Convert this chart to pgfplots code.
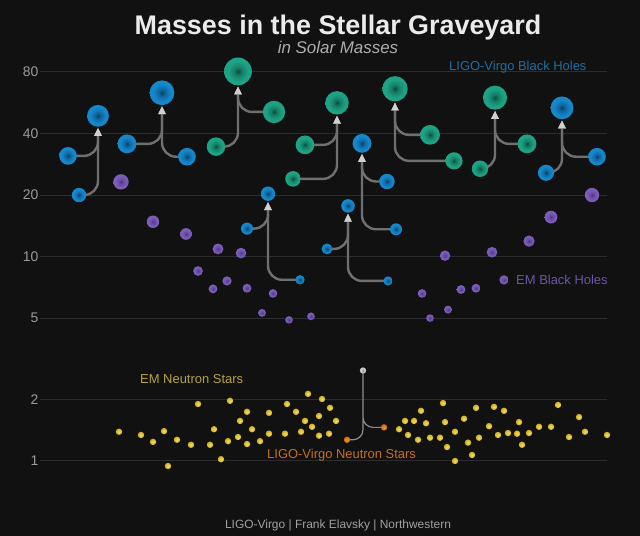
\documentclass[border=0pt]{standalone}
\usepackage{fontspec}
\setmainfont{Liberation Sans}
\usepackage{pgfplots}
\usepackage{pgfplotstable}
\pgfplotsset{compat=1.18}
\usetikzlibrary{arrows.meta}

\definecolor{bg}{HTML}{111111}
\definecolor{gridc}{HTML}{2C2C2C}
\definecolor{tickc}{HTML}{9A9A9A}
\definecolor{conncol}{HTML}{707070}
\definecolor{arrcol}{HTML}{D0D0D0}
\definecolor{bBlue}{HTML}{1587CB}
\definecolor{bBlueM}{HTML}{0F67A0}
\definecolor{bBlueD}{HTML}{0A3F66}
\definecolor{bTeal}{HTML}{1DA283}
\definecolor{bTealM}{HTML}{157C65}
\definecolor{bTealD}{HTML}{0C4A3E}
\definecolor{bPurp}{HTML}{7A5CB9}
\definecolor{bPurpM}{HTML}{66499F}
\definecolor{bPurpD}{HTML}{4B3480}
\definecolor{nsY}{HTML}{CFAE1E}
\definecolor{nsYL}{HTML}{F2DE62}
\definecolor{nsO}{HTML}{CC650C}
\definecolor{nsOL}{HTML}{F09A3A}
\definecolor{nsG}{HTML}{8A8A8A}
\definecolor{nsGL}{HTML}{C8C8C8}
\definecolor{lblBlue}{HTML}{1F6EA5}
\definecolor{lblPurp}{HTML}{6C55A3}
\definecolor{lblYel}{HTML}{B8A23A}
\definecolor{lblOr}{HTML}{C8701A}

% glowing discs: dark centre, bright rim
\pgfdeclareradialshading{shBlue}{\pgfpointorigin}{color(0bp)=(bBlueD); color(7bp)=(bBlueM); color(18bp)=(bBlue); color(50bp)=(bBlue)}
\pgfdeclareradialshading{shTeal}{\pgfpointorigin}{color(0bp)=(bTealD); color(7bp)=(bTealM); color(18bp)=(bTeal); color(50bp)=(bTeal)}
\pgfdeclareradialshading{shPurp}{\pgfpointorigin}{color(0bp)=(bPurpD); color(7bp)=(bPurpM); color(18bp)=(bPurp); color(50bp)=(bPurp)}
\pgfdeclareradialshading{shYel}{\pgfpointorigin}{color(0bp)=(nsYL); color(25bp)=(nsY); color(50bp)=(nsY)}
\pgfdeclareradialshading{shOr}{\pgfpointorigin}{color(0bp)=(nsOL); color(25bp)=(nsO); color(50bp)=(nsO)}
\pgfdeclareradialshading{shGrey}{\pgfpointorigin}{color(0bp)=(nsG); color(12bp)=(nsGL); color(50bp)=(nsGL)}

\pgfdeclareplotmark{gBlue}{\pgfpathcircle{\pgfpointorigin}{\pgfplotmarksize}\pgfshadepath{shBlue}{0}\pgfusepath{discard}}
\pgfdeclareplotmark{gTeal}{\pgfpathcircle{\pgfpointorigin}{\pgfplotmarksize}\pgfshadepath{shTeal}{0}\pgfusepath{discard}}
\pgfdeclareplotmark{gPurp}{\pgfpathcircle{\pgfpointorigin}{\pgfplotmarksize}\pgfshadepath{shPurp}{0}\pgfusepath{discard}}
\pgfdeclareplotmark{gYel}{\pgfpathcircle{\pgfpointorigin}{\pgfplotmarksize}\pgfshadepath{shYel}{0}\pgfusepath{discard}}
\pgfdeclareplotmark{gOr}{\pgfpathcircle{\pgfpointorigin}{\pgfplotmarksize}\pgfshadepath{shOr}{0}\pgfusepath{discard}}
\pgfdeclareplotmark{gGrey}{\pgfpathcircle{\pgfpointorigin}{\pgfplotmarksize}\pgfshadepath{shGrey}{0}\pgfusepath{discard}}

\tikzset{
  conn/.style={draw=conncol, line width=2.4bp, rounded corners=14bp,
    -{Triangle[width=7bp,length=8bp,color=arrcol]}},
}
\pgfplotsset{
  bubbles/.style={scatter, only marks, mark=#1,
    visualization depends on={rawy \as \ry},
    scatter/@pre marker code/.append style={/tikz/mark size={1.5*sqrt(\ry)+0.5}}},
}

% LIGO-Virgo black holes: x = position, m = mass
\pgfplotstableread{
x m
68 31.1
79 20.0
98 48.8
127 35.6
187 30.8
162 63.3
387 23.3
396 13.6
362 35.8
546 25.7
597 30.8
562 53.4
247 13.7
300 7.7
268 20.3
327 10.9
388 7.6
348 17.7
}\lvBlue
\pgfplotstableread{
x m
216 34.5
274 51.0
238 80.5
293 24.0
305 35.2
337 56.5
430 39.4
454 29.4
395 66.2
480 26.9
527 35.6
495 59.9
}\lvTeal
\pgfplotstableread{
x m
121 23.2
153 14.8
186 12.9
218 10.9
241 10.4
198 8.5
227 7.6
213 6.95
247 7.0
273 6.6
262 5.3
289 4.9
311 5.1
422 6.6
430 5.0
448 5.5
445 10.1
461 6.9
476 7.0
492 10.5
529 11.9
551 15.6
592 20.0
}\emBH
\pgfplotstableread{
x m
119 1.39
141 1.34
153 1.24
164 1.40
168 0.945
177 1.27
191 1.20
198 1.90
210 1.20
214 1.43
221 1.02
228 1.25
230 1.97
238 1.31
240 1.57
247 1.74
247 1.21
252 1.43
260 1.25
269 1.72
269 1.36
285 1.36
287 1.90
296 1.74
301 1.39
305 1.57
308 2.13
312 1.47
319 1.66
319 1.33
322 2.01
329 1.36
330 1.82
336 1.57
399 1.43
405 1.57
408 1.34
414 1.57
418 1.27
421 1.76
426 1.53
430 1.30
440 1.30
443 1.92
445 1.55
447 1.17
455 1.39
455 1.00
464 1.61
468 1.23
472 1.07
476 1.82
479 1.30
489 1.48
494 1.84
498 1.34
504 1.76
508 1.37
517 1.36
519 1.55
522 1.20
529 1.37
539 1.47
551 1.47
558 1.88
569 1.31
579 1.64
585 1.39
607 1.34
}\emNS

\newcommand{\conn}[5]{\draw[conn] (axis cs:#1,#2) -| ([yshift=-#5bp]axis cs:#3,#4);}

\begin{document}
\begin{tikzpicture}
\begin{axis}[
  width=640bp, height=536bp, scale only axis,
  xmin=0, xmax=640,
  ymode=log, ymin=0.4295, ymax=180.0,
  axis background/.style={fill=bg},
  axis line style={draw=none},
  xtick=\empty, ytick=\empty,
  clip=false,
]
% grid
\draw[gridc, line width=1bp]
  (axis cs:40,80) -- (axis cs:607,80)
  (axis cs:40,40) -- (axis cs:607,40)
  (axis cs:40,20) -- (axis cs:607,20)
  (axis cs:40,10) -- (axis cs:607,10)
  (axis cs:40,5) -- (axis cs:607,5)
  (axis cs:40,2) -- (axis cs:607,2)
  (axis cs:40,1) -- (axis cs:607,1);
\begin{scope}[every node/.style={anchor=east, inner sep=0pt, text=tickc, font=\fontsize{14}{14}\selectfont}]
\node at (axis cs:38.5,80) {80};
\node at (axis cs:38.5,40) {40};
\node at (axis cs:38.5,20) {20};
\node at (axis cs:38.5,10) {10};
\node at (axis cs:38.5,5) {5};
\node at (axis cs:38.5,2) {2};
\node at (axis cs:38.5,1) {1};
\end{scope}

% merger arrows: component -> remnant
\conn{68}{31.1}{98}{48.8}{12}
\conn{79}{20.0}{98}{48.8}{12}
\conn{127}{35.6}{162}{63.3}{13.4}
\conn{187}{30.8}{162}{63.3}{13.4}
\conn{216}{34.5}{238}{80.5}{15}
\conn{274}{51.0}{238}{80.5}{15}
\conn{293}{24.0}{337}{56.5}{12.8}
\conn{305}{35.2}{337}{56.5}{12.8}
\conn{387}{23.3}{362}{35.8}{10.5}
\conn{396}{13.6}{362}{35.8}{10.5}
\conn{430}{39.4}{395}{66.2}{13.7}
\conn{454}{29.4}{395}{66.2}{13.7}
\conn{480}{26.9}{495}{59.9}{13.1}
\conn{527}{35.6}{495}{59.9}{13.1}
\conn{546}{25.7}{562}{53.4}{12.5}
\conn{597}{30.8}{562}{53.4}{12.5}
\conn{247}{13.7}{268}{20.3}{8.3}
\conn{300}{7.7}{268}{20.3}{8.3}
\conn{327}{10.9}{348}{17.7}{7.8}
\conn{388}{7.6}{348}{17.7}{7.8}
\draw[draw=conncol!80, line width=1.2bp, rounded corners=10bp]
  (axis cs:347,1.27) -| ([yshift=-3bp]axis cs:363,2.77)
  (axis cs:384,1.46) -| ([yshift=-3bp]axis cs:363,2.77);

\addplot[bubbles=gBlue] table[x=x,y=m] {\lvBlue};
\addplot[bubbles=gTeal] table[x=x,y=m] {\lvTeal};
\addplot[bubbles=gPurp] table[x=x,y=m] {\emBH};
\addplot[bubbles=gPurp] coordinates {(504,7.69)};
\addplot[only marks, mark=gYel, mark size=3.2bp] table[x=x,y=m] {\emNS};
\addplot[only marks, mark=gOr, mark size=3.2bp] coordinates {(347,1.27) (384,1.46)};
\addplot[only marks, mark=gGrey, mark size=3.2bp] coordinates {(363,2.77)};

% titles and labels
\node[anchor=base, text=white!92!black, font=\fontsize{27}{27}\selectfont\bfseries]
  at (rel axis cs:0.5281,0.9347) {Masses in the Stellar Graveyard};
\node[anchor=base, text=white!68!black, font=\fontsize{17}{17}\selectfont\itshape]
  at (rel axis cs:0.5281,0.9006) {in Solar Masses};
\node[anchor=base west, inner sep=0pt, text=lblBlue, font=\fontsize{13}{13}\selectfont]
  at (rel axis cs:0.7016,0.8681) {LIGO-Virgo Black Holes};
\node[anchor=base west, inner sep=0pt, text=lblPurp, font=\fontsize{13}{13}\selectfont]
  at (rel axis cs:0.8063,0.4701) {EM Black Holes};
\node[anchor=base west, inner sep=0pt, text=lblYel, font=\fontsize{13}{13}\selectfont]
  at (rel axis cs:0.21875,0.2836) {EM Neutron Stars};
\node[anchor=base west, inner sep=0pt, text=lblOr, font=\fontsize{13}{13}\selectfont]
  at (rel axis cs:0.4172,0.1437) {LIGO-Virgo Neutron Stars};
\node[anchor=base, inner sep=0pt, text=white!63!black, font=\fontsize{12}{12}\selectfont]
  at (rel axis cs:0.5281,0.01306) {LIGO-Virgo | Frank Elavsky | Northwestern};
\end{axis}
\end{tikzpicture}
\end{document}
